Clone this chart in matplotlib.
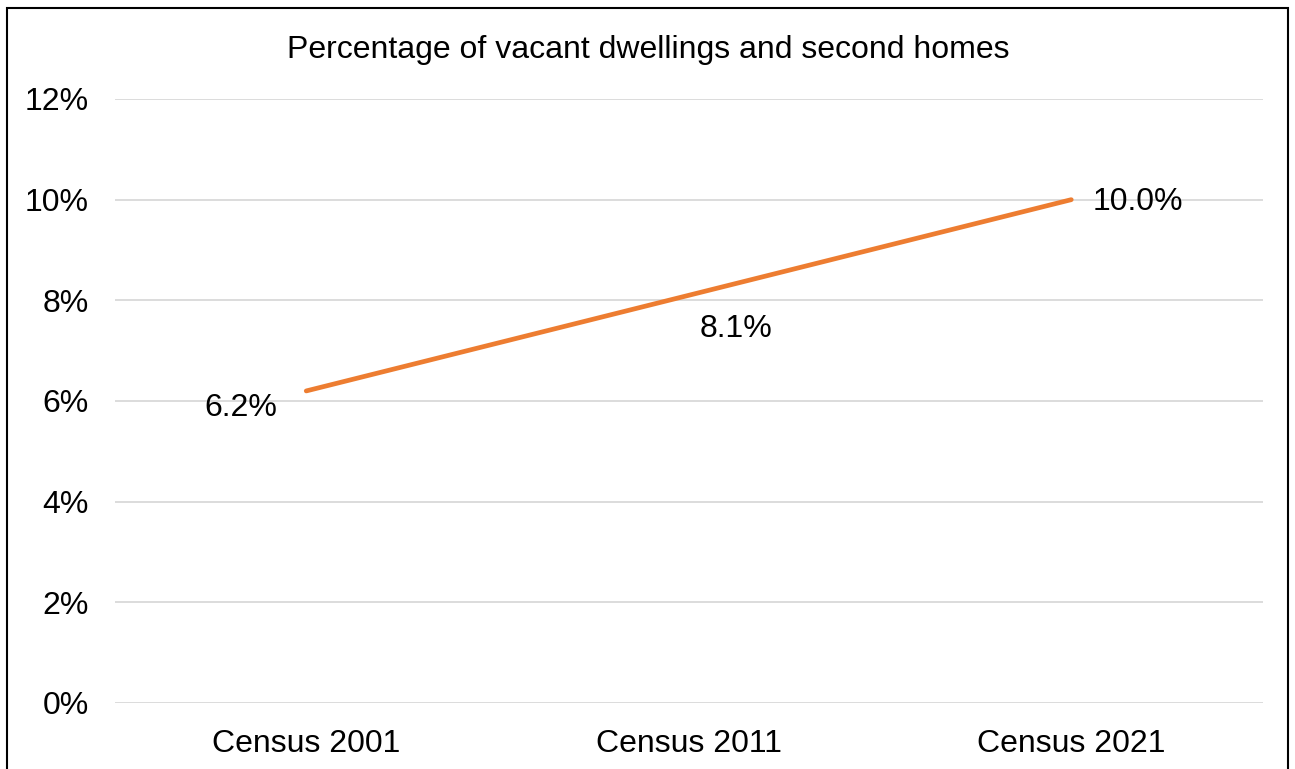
import matplotlib.pyplot as plt
import matplotlib.patches as patches
from matplotlib.ticker import FuncFormatter

plt.rcParams['font.family'] = ['Liberation Sans', 'DejaVu Sans']

categories = ["Census 2001", "Census 2011", "Census 2021"]
values = [6.2, 8.1, 10.0]
labels = ["6.2%", "8.1%", "10.0%"]
yticks = [0, 2, 4, 6, 8, 10, 12]

fig = plt.figure(figsize=(12.95, 7.69), dpi=100)
ax = fig.add_axes([115/1295, 66/769, (1262.5-115)/1295, (670-66)/769])

x = list(range(len(categories)))
ax.plot(x, values, color='#ED7D31', linewidth=3.4, solid_capstyle='round')

# data labels, offsets in points roughly like the original
offsets = [(-47, -12), (34, -24), (48, -2)]
for xi, v, lab, off in zip(x, values, labels, offsets):
    ax.annotate(lab, (xi, v), xytext=off, textcoords='offset points',
                ha='center', va='center', fontsize=23, color='black')

ax.set_xlim(-0.5, 2.5)
ax.set_ylim(0, 12)
ax.set_yticks(yticks)
ax.yaxis.set_major_formatter(FuncFormatter(lambda v, p: f"{v:.0f}%"))
ax.set_xticks(x)
ax.set_xticklabels(categories)
ax.tick_params(axis='both', length=0, labelsize=23, colors='black')
ax.tick_params(axis='y', pad=19)
ax.tick_params(axis='x', pad=19)
ax.grid(axis='y', color='#D9D9D9', linewidth=1.3)
ax.set_axisbelow(True)
for s in ax.spines.values():
    s.set_visible(False)

fig.text(648/1295, 1 - 50/769, "Percentage of vacant dwellings and second homes",
         ha='center', va='center', fontsize=23)

# outer frame
frame = patches.Rectangle((6.5/1295, -0.05), (1288-6.5)/1295, 1 - 7.5/769 + 0.05,
                          transform=fig.transFigure, fill=False,
                          edgecolor='black', linewidth=1.5)
fig.patches.append(frame)

fig.savefig("out.png", dpi=100)
